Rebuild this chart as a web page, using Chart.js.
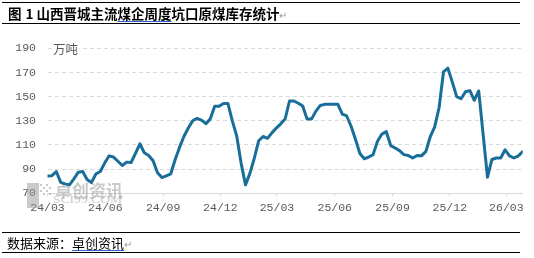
<!DOCTYPE html>
<html>
<head>
<meta charset="utf-8">
<script src="https://cdn.jsdelivr.net/npm/chart.js@4.4.1/dist/chart.umd.min.js"></script>
<style>
  html, body { margin: 0; padding: 0; background: #fff; }
  body { width: 534px; height: 258px; position: relative; overflow: hidden; font-family: "Noto Sans CJK SC", sans-serif; }
  #chart { position: absolute; left: 0; top: 0; }
  .rule { position: absolute; left: 2px; width: 518px; height: 0; border-top: 1.5px solid #000; }
  .title { position: absolute; left: 8px; top: 5px; font-size: 13.5px; font-weight: bold; line-height: 17px; white-space: nowrap; color: #000; }
  .num { margin: 0 3px 0 4px; }
  .src { position: absolute; left: 7px; top: 234px; font-size: 13px; line-height: 17px; white-space: nowrap; color: #000; }
  .ul { text-decoration: underline double #2f5fcf; text-decoration-thickness: 1px; text-underline-offset: 2px; }
  .mark { color: #999; font-weight: normal; font-size: 10px; }
</style>
</head>
<body>
<canvas id="chart" width="534" height="258"></canvas>
<div class="rule" style="top:2px"></div>
<div class="title">图<span class="num">1</span>山西晋城主流<span class="ul">煤企周度</span>坑口原煤库存统计<span class="mark">↵</span></div>
<div class="rule" style="top:23px"></div>
<div class="rule" style="top:231.5px"></div>
<div class="src">数据来源：<span class="ul">卓创资讯</span><span class="mark">↵</span></div>
<div class="rule" style="top:252px"></div>
<script>
// weekly stock, 万吨, first week 2024-03-01
const startDate = Date.UTC(2024, 2, 1);
const stock = [
  84.4, 84.6, 88, 79, 77.8, 77, 82, 87.5, 88, 81.5,
  79, 86, 88, 95, 101, 100, 96.5, 93, 95.8, 95.5,
  103, 111, 103.5, 101.3, 97, 87, 83, 84.4, 86, 97.8,
  108, 117, 124, 130, 132, 130.5, 127.6, 131.6, 142, 142,
  144.4, 144.4, 130, 117.5, 95, 77, 86.5, 99, 113.5, 117,
  115.5, 120, 124, 127.5, 131.5, 146.4, 146.4, 144.5, 142.2, 131.4,
  131.4, 138, 142.7, 143.6, 143.6, 143.6, 143.6, 135.5, 134, 125.5,
  114.5, 103, 98.6, 100, 102, 113, 119, 121, 109.5, 107.5,
  105.3, 102, 101.3, 99.2, 101.3, 101, 104.7, 117, 125, 141,
  170.5, 173.6, 162, 150, 148.3, 154, 155, 147, 154.7, 119,
  83.3, 98, 99.2, 99.2, 106, 101, 99.2, 101, 104.5
];
const tickLabels = ['24/03', '24/06', '24/09', '24/12', '25/03', '25/06', '25/09', '25/12', '26/03'];
const yTicks = [70, 90, 110, 130, 150, 170, 190];
const unitLabel = '万吨';

// days since start for each week and for each quarter label
const weekDays = stock.map((v, i) => i * 7);
const tickDays = tickLabels.map(s => {
  const [yy, mm] = s.split('/').map(Number);
  return Math.round((Date.UTC(2000 + yy, mm - 1, 1) - startDate) / 86400000);
});

const gray = '#d9d9d9';
const textGray = '#595959';

const extras = {
  id: 'extras',
  beforeDatasetsDraw(chart) {
    // faint watermark
    const ctx = chart.ctx;
    ctx.save();
    ctx.fillStyle = 'rgba(150,150,150,0.5)';
    ctx.fillRect(27, 183, 12, 25);
    for (let r = 0; r < 4; r++) {
      for (let c = 0; c < 4; c++) {
        if ((r + c) % 2 === 0) ctx.fillRect(40 + c * 3, 184 + r * 3, 2, 2);
      }
    }
    ctx.fillStyle = 'rgba(150,150,150,0.5)';
    ctx.font = 'bold 17px "Noto Sans CJK SC"';
    ctx.textBaseline = 'middle';
    ctx.fillText('卓创资讯', 55, 191);
    ctx.font = '10px "Liberation Serif"';
    const w = ctx.measureText('SCI99.COM').width;
    ctx.translate(53, 200.5);
    ctx.scale(69 / w, 1);
    ctx.fillText('SCI99.COM', 0, 0);
    ctx.restore();
  },
  afterDraw(chart) {
    const ctx = chart.ctx;
    const y = chart.scales.y.getPixelForValue(190);
    ctx.save();
    ctx.font = '12.5px "Noto Sans CJK SC"';
    const w = ctx.measureText(unitLabel).width;
    ctx.fillStyle = '#fff';
    ctx.fillRect(52, y - 6, w + 2, 12);
    ctx.fillStyle = textGray;
    ctx.textBaseline = 'middle';
    ctx.fillText(unitLabel, 53, y + 0.5);
    ctx.restore();
  }
};

new Chart(document.getElementById('chart'), {
  type: 'line',
  data: {
    datasets: [{
      data: stock.map((v, i) => ({ x: weekDays[i], y: v })),
      borderColor: '#186e99',
      borderWidth: 3,
      borderJoinStyle: 'round',
      borderCapStyle: 'round',
      pointRadius: 0,
      tension: 0,
      fill: false
    }]
  },
  options: {
    responsive: false,
    animation: false,
    devicePixelRatio: 1,
    layout: { padding: { left: 0, right: 11.3, top: 48.3, bottom: 44.7 } },
    plugins: { legend: { display: false }, tooltip: { enabled: false } },
    scales: {
      x: {
        type: 'linear',
        min: 0,
        max: weekDays[weekDays.length - 1],
        afterBuildTicks: s => { s.ticks = tickDays.map(v => ({ value: v })); },
        afterFit: s => { s.height = 20; s.paddingLeft = 0; s.paddingRight = 0; },
        grid: { drawOnChartArea: false, drawTicks: true, tickLength: 3, color: gray },
        border: { display: true, color: gray, width: 1 },
        ticks: {
          autoSkip: false,
          maxRotation: 0,
          padding: 5,
          color: textGray,
          font: { family: 'Liberation Mono', size: 11.5 },
          callback: v => tickLabels[tickDays.indexOf(v)]
        }
      },
      y: {
        min: 70,
        max: 190,
        afterBuildTicks: s => { s.ticks = yTicks.map(v => ({ value: v })); },
        afterFit: s => { s.width = 47.5; },
        grid: {
          drawTicks: false,
          color: c => (c.tick && c.tick.value === 70) ? 'rgba(0,0,0,0)' : gray
        },
        border: { display: false, dash: [4, 3] },
        ticks: {
          padding: 11.5,
          color: textGray,
          font: { family: 'Liberation Mono', size: 11.5 }
        }
      }
    }
  },
  plugins: [extras]
});
</script>
</body>
</html>
